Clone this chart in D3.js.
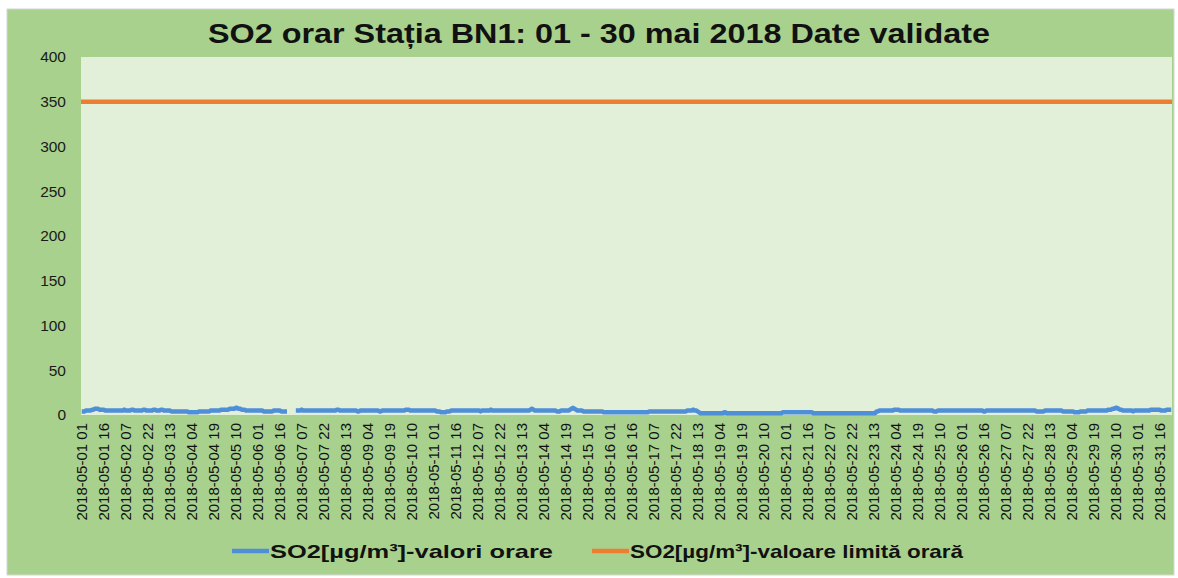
<!DOCTYPE html>
<html>
<head>
<meta charset="utf-8">
<script src="https://cdn.jsdelivr.net/npm/d3@7"></script>
<style>
  body { margin: 0; background: #fff; }
  svg { display: block; font-family: "Liberation Sans", Arial, sans-serif; }
</style>
</head>
<body>
<script>
// zilele din mai si orele (01..24)
const days = d3.range(1, 32).map(d => String(d).padStart(2, "0"));
const hours = d3.range(1, 25).map(h => String(h).padStart(2, "0"));

// SO2 valori orare (un rand pe zi, null = lipsa date)
const so2Hourly = [
  [4,4,4,5,5,5,5,6,6,7,7,7,6,6,6,6,5,5,5,5,5,5,5,5],
  [5,5,5,5,5,6,5,5,5,5,6,6,5,5,5,5,5,5,6,6,5,5,5,5],
  [5,6,6,5,5,5,6,6,5,5,5,5,5,4,4,4,4,4,4,4,4,4,4,4],
  [4,3,3,3,3,3,3,3,4,4,4,4,4,4,4,4,5,5,5,5,5,5,5,6],
  [6,6,6,6,6,7,7,7,7,8,8,7,7,6,6,6,5,5,5,5,5,5,5,5],
  [5,5,5,5,4,4,4,4,4,4,4,5,5,5,5,5,4,4,4,4,4,null,null,null],
  [null,null,5,5,5,5,6,5,5,5,5,5,5,5,5,5,5,5,5,5,5,5,5,5],
  [5,5,5,5,5,5,6,6,5,5,5,5,5,5,5,5,5,5,5,5,4,4,5,5],
  [5,5,5,5,5,5,5,5,5,5,5,4,4,5,5,5,5,5,5,5,5,5,5,5],
  [5,5,5,5,5,6,6,6,5,5,5,5,5,5,5,5,5,5,5,5,5,5,5,5],
  [5,5,4,4,4,3,3,3,3,4,4,4,5,5,5,5,5,5,5,5,5,5,5,5],
  [5,5,5,5,5,5,5,5,4,5,5,5,5,5,5,6,5,5,5,5,5,5,5,5],
  [5,5,5,5,5,5,5,5,5,5,5,5,5,5,5,5,5,5,6,7,6,5,5,5],
  [5,5,5,5,5,5,5,5,5,5,5,5,4,4,4,5,5,5,5,5,5,6,7,8],
  [7,6,5,5,5,5,4,4,4,4,4,4,4,4,4,4,4,4,4,4,3,3,3,3],
  [3,3,3,3,3,3,3,3,3,3,3,3,3,3,3,3,3,3,3,3,3,3,3,3],
  [3,3,3,4,4,4,4,4,4,4,4,4,4,4,4,4,4,4,4,4,4,4,4,4],
  [4,4,4,4,4,5,5,5,5,6,5,5,4,3,2,2,2,2,2,2,2,2,2,2],
  [2,2,2,2,2,2,3,3,2,2,2,2,2,2,2,2,2,2,2,2,2,2,2,2],
  [2,2,2,2,2,2,2,2,2,2,2,2,2,2,2,2,2,2,2,2,2,2,3,3],
  [3,3,3,3,3,3,3,3,3,3,3,3,3,3,3,3,3,3,3,2,2,2,2,2],
  [2,2,2,2,2,2,2,2,2,2,2,2,2,2,2,2,2,2,2,2,2,2,2,2],
  [2,2,2,2,2,2,2,2,2,2,2,2,2,2,4,4,5,5,5,5,5,5,5,5],
  [5,5,6,6,6,6,5,5,5,5,5,5,5,5,5,5,5,5,5,5,5,5,5,5],
  [5,5,5,5,5,4,4,4,5,5,5,5,5,5,5,5,5,5,5,5,5,5,5,5],
  [5,5,5,5,5,5,5,5,5,5,5,5,5,5,5,4,4,5,5,5,5,5,5,5],
  [5,5,5,5,5,5,5,5,5,5,5,5,5,5,5,5,5,5,5,5,5,5,5,5],
  [5,5,5,4,4,4,4,4,4,5,5,5,5,5,5,5,5,5,5,5,5,4,4,4],
  [4,4,4,4,4,3,3,3,3,4,4,4,4,4,5,5,5,5,5,5,5,5,5,5],
  [5,5,5,5,6,6,6,7,7,8,8,7,6,6,5,5,5,5,5,5,5,4,5,5],
  [5,5,5,5,5,5,5,5,5,6,6,6,6,6,6,6,5,5,5,5,6,6,6,6]
];
const limitValue = 350;
const yTicks = [0, 50, 100, 150, 200, 250, 300, 350, 400];

const titleText = "SO2 orar Stația BN1: 01 - 30 mai 2018 Date validate";
const seriesNames = ["SO2[µg/m³]-valori orare", "SO2[µg/m³]-valoare limită orară"];
const seriesColors = ["#4f8fd8", "#ed7d31"];

const width = 1178, height = 578;
const plot = {left: 81, right: 1172, top: 57, bottom: 415};

const categories = days.flatMap(d => hours.map(h => `2018-05-${d} ${h}`));
const values = so2Hourly.flat();
const data = categories.map((c, i) => ({cat: c, v: values[i]}));

const svg = d3.select("body").append("svg")
  .attr("width", width)
  .attr("height", height);

// fundal verde
svg.append("rect")
  .attr("x", 7).attr("y", 9)
  .attr("width", 1167).attr("height", 566)
  .attr("fill", "#a9d18e")
  .attr("stroke", "#d6d6d6");

svg.append("rect")
  .attr("x", plot.left).attr("y", plot.top)
  .attr("width", plot.right - plot.left).attr("height", plot.bottom - plot.top)
  .attr("fill", "#e2efd9");

const x = d3.scaleBand()
  .domain(categories)
  .range([plot.left, plot.right]);

const y = d3.scaleLinear()
  .domain([0, 400])
  .range([plot.bottom, plot.top]);

// axa Y
svg.append("g")
  .attr("transform", `translate(${plot.left - 15},0)`)
  .call(d3.axisLeft(y).tickValues(yTicks).tickSize(0).tickPadding(0))
  .call(g => g.select(".domain").remove())
  .selectAll("text")
    .attr("font-size", 15.5)
    .attr("font-family", "Liberation Sans, Arial, sans-serif")
    .attr("fill", "#1a1a1a");

// axa X (etichete la fiecare 15 ore)
const xTicks = categories.filter((c, i) => i % 15 === 0);
svg.append("g")
  .attr("transform", `translate(0,${plot.bottom})`)
  .call(d3.axisBottom(x).tickValues(xTicks).tickSize(0).tickPadding(0))
  .call(g => g.select(".domain").remove())
  .selectAll("text")
    .attr("font-size", 15)
    .attr("font-family", "Liberation Sans, Arial, sans-serif")
    .attr("fill", "#111")
    .attr("text-anchor", "end")
    .attr("transform", "translate(0,8) rotate(-90)")
    .attr("dx", 0)
    .attr("dy", "0.35em")
    .attr("y", 0);

// linia valoare limita
svg.append("line")
  .attr("x1", plot.left).attr("x2", plot.right)
  .attr("y1", y(limitValue)).attr("y2", y(limitValue))
  .attr("stroke", seriesColors[1])
  .attr("stroke-width", 4.5);

// valori orare
const line = d3.line()
  .defined(d => d.v != null)
  .x(d => x(d.cat) + x.bandwidth() / 2)
  .y(d => y(d.v))
  .curve(d3.curveLinear);

svg.append("path")
  .datum(data)
  .attr("fill", "none")
  .attr("stroke", seriesColors[0])
  .attr("stroke-width", 4.5)
  .attr("stroke-linejoin", "round")
  .attr("d", line);

// titlu
svg.append("text")
  .attr("x", 208).attr("y", 43)
  .attr("font-size", 28)
  .attr("font-weight", "bold")
  .attr("fill", "#111")
  .attr("textLength", 782)
  .attr("lengthAdjust", "spacingAndGlyphs")
  .text(titleText);

// legenda
const legendX = [232, 592];
const legendTextLen = [283, 333];
const legend = svg.append("g")
  .selectAll("g")
  .data(seriesNames)
  .join("g")
  .attr("transform", (d, i) => `translate(${legendX[i]},551)`);

legend.append("line")
  .attr("x1", 0).attr("x2", 37)
  .attr("stroke", (d, i) => seriesColors[i])
  .attr("stroke-width", 4.5);

legend.append("text")
  .attr("x", 38)
  .attr("dy", "0.36em")
  .attr("font-size", 19)
  .attr("font-weight", "bold")
  .attr("fill", "#111")
  .attr("textLength", (d, i) => legendTextLen[i])
  .attr("lengthAdjust", "spacingAndGlyphs")
  .text(d => d);
</script>
</body>
</html>
